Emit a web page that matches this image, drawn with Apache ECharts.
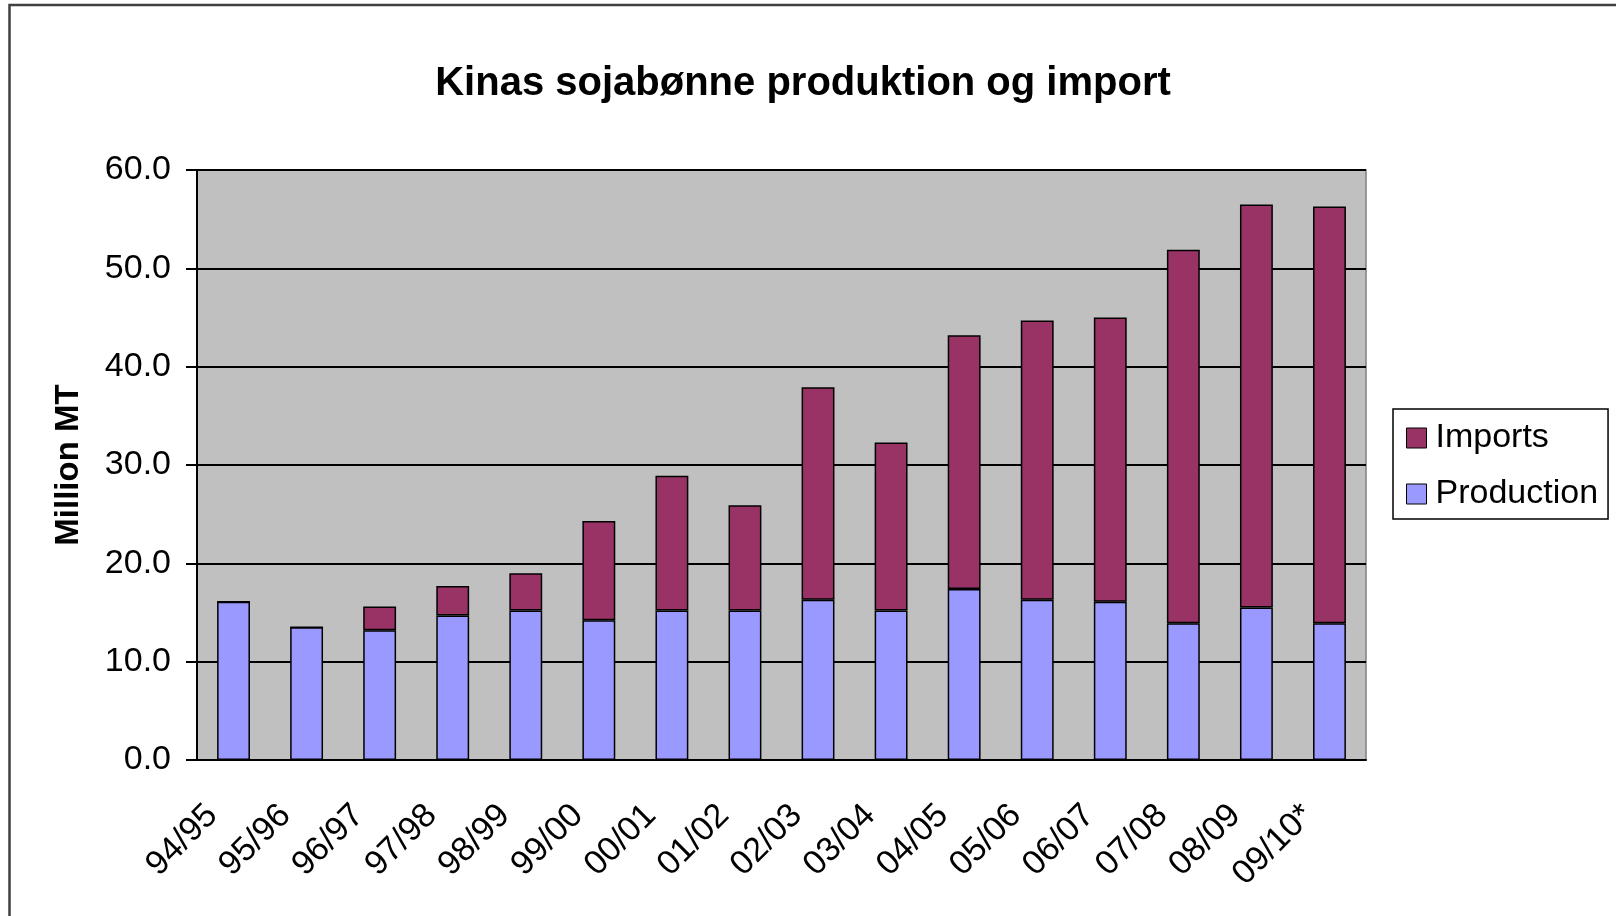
<!DOCTYPE html>
<html>
<head>
<meta charset="utf-8">
<title>Kinas sojabønne produktion og import</title>
<script src="https://cdn.jsdelivr.net/npm/echarts/dist/echarts.min.js"></script>
<style>
  html, body { margin: 0; padding: 0; background: #fff; }
  #chart { width: 1616px; height: 916px; }
</style>
</head>
<body>
<div id="chart"></div>
<script>
// season labels (x axis)
var seasons = ['94/95', '95/96', '96/97', '97/98', '98/99', '99/00', '00/01', '01/02',
  '02/03', '03/04', '04/05', '05/06', '06/07', '07/08', '08/09', '09/10*'];
// million MT
var production = [16.1, 13.5, 13.2, 14.7, 15.2, 14.2, 15.2, 15.2, 16.3, 15.2, 17.4, 16.3, 16.1, 13.9, 15.5, 13.9];
var imports = [0, 0, 2.4, 3.0, 3.8, 10.1, 13.7, 10.7, 21.6, 17.1, 25.8, 28.4, 28.9, 38.0, 41.0, 42.4];
var yTicks = [0, 10, 20, 30, 40, 50, 60];

var font = '"Liberation Sans", Arial, sans-serif';

var chart = echarts.init(document.getElementById('chart'));
var option = {
  animation: false,
  textStyle: { fontFamily: font },
  graphic: [{
    type: 'rect',
    shape: { x: 9.5, y: 5, width: 1700, height: 1000 },
    style: { fill: 'none', stroke: '#404040', lineWidth: 2.5 },
    silent: true
  }],
  title: {
    text: 'Kinas sojabønne produktion og import',
    left: 803,
    top: 64,
    textAlign: 'center',
    padding: 0,
    textStyle: { fontFamily: font, fontWeight: 'bold', fontSize: 40, color: '#000' }
  },
  legend: {
    orient: 'vertical',
    left: 1393,
    top: 409,
    padding: [12, 10, 8, 13],
    itemGap: 22,
    itemWidth: 20,
    itemHeight: 20,
    icon: 'rect',
    borderColor: '#000',
    borderWidth: 1.5,
    backgroundColor: '#fff',
    data: ['Imports', 'Production'],
    textStyle: { fontFamily: font, fontSize: 34, color: '#000', padding: [0, 0, 0, 4] },
    itemStyle: { borderColor: '#000', borderWidth: 1 }
  },
  grid: {
    left: 197,
    top: 170,
    right: 250,
    bottom: 156,
    show: true,
    backgroundColor: '#C0C0C0',
    borderColor: '#808080',
    borderWidth: 1.5
  },
  xAxis: {
    type: 'category',
    data: seasons,
    axisLine: { lineStyle: { color: '#000', width: 2 } },
    axisTick: { length: 12, lineStyle: { color: '#000', width: 2 } },
    // right padding slides the rotated text down-left, margin pulls it back up
    axisLabel: { rotate: 45, margin: 29, padding: [0, 30, 0, 0], fontSize: 34, color: '#000', fontFamily: font }
  },
  yAxis: {
    type: 'value',
    min: yTicks[0],
    max: yTicks[yTicks.length - 1],
    interval: 10,
    name: 'Million MT',
    nameLocation: 'middle',
    nameGap: 112,
    nameTextStyle: { fontFamily: font, fontWeight: 'bold', fontSize: 33, color: '#000' },
    axisLine: { show: true, lineStyle: { color: '#000', width: 2 } },
    axisTick: { show: true, length: 11, lineStyle: { color: '#000', width: 2 } },
    axisLabel: {
      margin: 26, fontSize: 34, color: '#000', fontFamily: font,
      formatter: function (v) { return v.toFixed(1); }
    },
    splitLine: { lineStyle: { color: '#000', width: 2 } }
  },
  series: [
    {
      name: 'Production',
      type: 'bar',
      stack: 'total',
      data: production,
      barWidth: '45%',
      itemStyle: { color: '#9999FF', borderColor: '#000', borderWidth: 1.5 }
    },
    {
      name: 'Imports',
      type: 'bar',
      stack: 'total',
      data: imports,
      barWidth: '45%',
      itemStyle: { color: '#993366', borderColor: '#000', borderWidth: 1.5 }
    }
  ]
};
chart.setOption(option);
</script>
</body>
</html>
